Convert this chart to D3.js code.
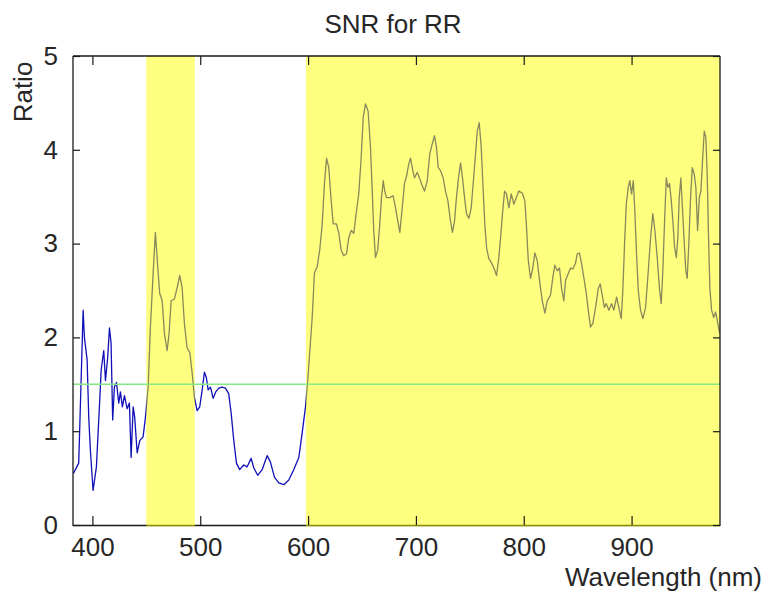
<!DOCTYPE html>
<html>
<head>
<meta charset="utf-8">
<script src="https://cdn.jsdelivr.net/npm/d3@7"></script>
<style>
  html, body { margin: 0; padding: 0; background: #fff; }
  svg text { font-family: "Liberation Sans", Arial, sans-serif; fill: #262626; }
</style>
</head>
<body>
<svg id="chart" width="764" height="601"></svg>
<script>
// Wavelength samples (nm) and signal-to-noise ratio
const wavelength = [
  382.4,387.3,391.4,392.6,395.1,396.6,398.1,400.6,403.7,406.8,408.1,410.5,412.1,414.2,415.8,417.3,418.8,420.4,422.3,424.4,
  426.0,427.8,429.7,432.2,434.3,435.9,437.8,439.2,441.5,443.9,447.0,449.2,451.7,453.8,456.3,458.4,460.6,462.4,464.7,466.8,
  469.3,471.1,473.0,476.1,478.6,481.0,483.2,485.3,487.8,490.3,492.5,494.6,497.1,499.5,501.8,503.9,505.7,507.3,509.5,512.0,
  514.4,517.2,520.3,523.4,526.4,528.7,531.1,533.6,536.6,540.3,543.5,547.2,549.6,553.3,557.4,562.1,565.1,568.8,572.8,577.5,
  582.1,586.7,591.4,594.5,597.6,599.7,603.8,605.9,608.4,610.8,613.1,615.2,617.1,619.2,621.4,623.3,626.3,628.5,630.7,633.1,
  635.6,637.7,640.0,642.4,644.9,647.0,649.2,651.1,653.2,655.7,657.9,659.5,660.9,662.5,664.6,666.5,668.1,669.7,671.1,672.7,
  675.8,678.9,681.1,683.2,685.1,687.3,689.4,691.3,693.4,695.0,697.1,698.7,701.2,703.6,705.8,708.0,710.5,712.9,715.1,717.2,
  719.1,720.7,722.8,725.3,727.4,729.6,732.1,733.9,735.8,737.6,739.5,741.4,743.2,745.1,746.9,749.1,751.3,753.1,755.0,756.9,
  758.7,760.6,762.4,763.9,765.5,767.6,769.8,772.3,774.8,776.9,778.5,780.0,782.2,784.0,786.2,788.4,790.8,795.4,798.6,801.0,
  802.6,804.2,806.3,808.4,810.3,812.5,814.6,817.2,819.6,821.8,824.8,827.0,828.8,831.1,833.2,835.0,837.2,838.8,841.3,843.4,
  845.5,848.0,849.6,851.7,853.6,855.7,858.0,859.8,861.9,864.1,866.6,869.1,870.9,872.8,874.7,876.5,878.9,881.4,883.6,886.1,
  888.2,890.4,891.9,893.5,895.1,896.9,898.4,900.0,901.6,903.0,904.6,906.2,908.3,910.5,913.0,915.5,917.6,919.7,921.6,923.8,
  926.0,927.5,929.0,930.6,932.2,933.7,935.2,936.8,938.3,939.9,941.5,942.9,944.2,945.7,947.3,948.9,950.3,951.6,953.1,954.7,
  956.3,958.1,959.6,961.2,962.8,964.3,965.8,967.4,968.9,970.2,971.4,972.6,974.2,976.1,977.9,979.8,981.6
];
const ratio = [
  0.55,0.66,2.29,2.00,1.76,1.15,0.80,0.37,0.62,1.33,1.65,1.86,1.54,1.79,2.10,1.94,1.12,1.47,1.52,1.30,
  1.42,1.26,1.38,1.24,1.30,0.72,1.26,1.15,0.77,0.90,0.94,1.15,1.47,2.11,2.68,3.12,2.75,2.47,2.39,2.04,
  1.86,2.04,2.39,2.41,2.53,2.66,2.53,2.15,1.89,1.84,1.62,1.36,1.22,1.26,1.44,1.63,1.57,1.44,1.47,1.35,
  1.42,1.46,1.47,1.46,1.40,1.19,0.90,0.66,0.59,0.64,0.62,0.71,0.61,0.53,0.59,0.74,0.67,0.51,0.45,0.43,
  0.48,0.59,0.72,0.98,1.26,1.54,2.21,2.69,2.75,2.93,3.21,3.64,3.91,3.81,3.46,3.21,3.21,3.11,2.93,2.87,
  2.89,3.06,3.14,3.11,3.35,3.53,3.91,4.34,4.49,4.41,4.02,3.56,3.14,2.85,2.93,3.21,3.49,3.67,3.56,3.49,
  3.49,3.51,3.38,3.24,3.12,3.38,3.64,3.72,3.85,3.91,3.78,3.70,3.76,3.69,3.62,3.56,3.67,3.96,4.06,4.15,
  4.02,3.81,3.78,3.70,3.56,3.46,3.24,3.12,3.24,3.49,3.70,3.86,3.70,3.49,3.32,3.27,3.38,3.64,3.91,4.20,
  4.29,4.02,3.56,3.21,2.96,2.84,2.80,2.74,2.66,2.85,3.06,3.28,3.56,3.53,3.38,3.53,3.42,3.56,3.54,3.46,
  3.17,2.82,2.63,2.74,2.90,2.82,2.61,2.39,2.26,2.39,2.45,2.64,2.77,2.71,2.74,2.53,2.39,2.61,2.68,2.74,
  2.73,2.79,2.89,2.90,2.79,2.64,2.47,2.29,2.11,2.15,2.32,2.52,2.57,2.45,2.32,2.36,2.29,2.36,2.29,2.43,
  2.32,2.20,2.50,3.00,3.42,3.60,3.67,3.53,3.67,3.35,2.89,2.50,2.29,2.20,2.32,2.71,3.06,3.32,3.14,2.85,
  2.50,2.36,2.71,3.24,3.70,3.60,3.64,3.46,3.24,2.96,2.85,3.06,3.49,3.70,3.35,3.00,2.71,2.63,3.00,3.49,
  3.81,3.74,3.60,3.14,3.49,3.56,3.88,4.20,4.13,3.70,3.06,2.53,2.29,2.21,2.27,2.16,2.05
];

// Highlighted wavelength bands (start, end in nm)
const bandStart = [450, 598];
const bandEnd = [495, 982];

// Threshold ratio
const threshold = 1.5;

// Axis ticks
const xTicks = [400, 500, 600, 700, 800, 900];
const yTicks = [0, 1, 2, 3, 4, 5];

const xDomain = [382, 982];
const yDomain = [0, 5];

const plotLeft = 73, plotRight = 720, plotTop = 56, plotBottom = 525;

const svg = d3.select("#chart");
const x = d3.scaleLinear().domain(xDomain).range([plotLeft, plotRight]);
const y = d3.scaleLinear().domain(yDomain).range([plotBottom, plotTop]);

svg.append("rect").attr("width", 764).attr("height", 601).attr("fill", "#fff");

svg.append("clipPath").attr("id", "plot-clip")
  .append("rect").attr("x", plotLeft).attr("y", plotTop)
  .attr("width", plotRight - plotLeft).attr("height", plotBottom - plotTop);

const points = wavelength.map((w, i) => [w, ratio[i]]);

// Bottom axis line sits under the translucent bands
svg.append("line")
  .attr("x1", plotLeft).attr("x2", plotRight).attr("y1", plotBottom + 0.5).attr("y2", plotBottom + 0.5)
  .attr("stroke", "#1a1a1a").attr("stroke-width", 1.3);

// Ratio curve
svg.append("path")
  .datum(points)
  .attr("clip-path", "url(#plot-clip)")
  .attr("fill", "none")
  .attr("stroke", "#1010b8")
  .attr("stroke-width", 1.3)
  .attr("stroke-linejoin", "round")
  .attr("d", d3.line().x(d => x(d[0])).y(d => y(d[1])));

// Translucent yellow bands drawn over the curve
svg.append("g").selectAll("rect")
  .data(bandStart.map((s, i) => [s, bandEnd[i]]))
  .join("rect")
  .attr("x", d => x(d[0]))
  .attr("width", d => Math.min(x(d[1]), plotRight) - x(d[0]))
  .attr("y", plotTop)
  .attr("height", plotBottom - plotTop + 1.5)
  .attr("fill", "#ffff00")
  .attr("fill-opacity", 0.5);

// Threshold line
svg.append("line")
  .attr("x1", plotLeft).attr("x2", plotRight)
  .attr("y1", y(threshold)).attr("y2", y(threshold))
  .attr("stroke", "#84e884").attr("stroke-width", 1.6);

// Remaining frame lines
const frame = svg.append("g").attr("stroke", "#1a1a1a").attr("stroke-width", 1.3);
frame.append("line").attr("x1", plotLeft).attr("x2", plotRight).attr("y1", plotTop).attr("y2", plotTop);
frame.append("line").attr("x1", plotLeft).attr("x2", plotLeft).attr("y1", plotTop).attr("y2", plotBottom + 1);
frame.append("line").attr("x1", plotRight).attr("x2", plotRight).attr("y1", plotTop).attr("y2", plotBottom + 1);

// Axes with inward ticks
const xAxisB = d3.axisBottom(x).tickValues(xTicks).tickSize(-9).tickPadding(13).tickFormat(d3.format("d"));
const xAxisT = d3.axisTop(x).tickValues(xTicks).tickSize(-9).tickFormat("");
const yAxisL = d3.axisLeft(y).tickValues(yTicks).tickSize(-7).tickPadding(15).tickFormat(d3.format("d"));
const yAxisR = d3.axisRight(y).tickValues(yTicks).tickSize(-7).tickFormat("");

function styleAxis(g) {
  g.select(".domain").remove();
  g.selectAll(".tick line").attr("stroke", "#1a1a1a").attr("stroke-width", 1.2);
  g.selectAll(".tick text").attr("font-size", 26).attr("fill", "#262626")
    .attr("font-family", '"Liberation Sans", Arial, sans-serif');
}

svg.append("g").attr("transform", `translate(0,${plotBottom})`).call(xAxisB).call(styleAxis);
svg.append("g").attr("transform", `translate(0,${plotTop})`).call(xAxisT).call(styleAxis);
svg.append("g").attr("transform", `translate(${plotLeft},0)`).call(yAxisL).call(styleAxis);
svg.append("g").attr("transform", `translate(${plotRight},0)`).call(yAxisR).call(styleAxis);

// Title and axis labels
svg.append("text").attr("x", 393).attr("y", 33).attr("text-anchor", "middle")
  .attr("font-size", 26).text("SNR for RR");
svg.append("text").attr("x", 762).attr("y", 586).attr("text-anchor", "end")
  .attr("font-size", 26).text("Wavelength (nm)");
svg.append("text").attr("transform", "translate(32,92) rotate(-90)").attr("text-anchor", "middle")
  .attr("font-size", 26).text("Ratio");
</script>
</body>
</html>
